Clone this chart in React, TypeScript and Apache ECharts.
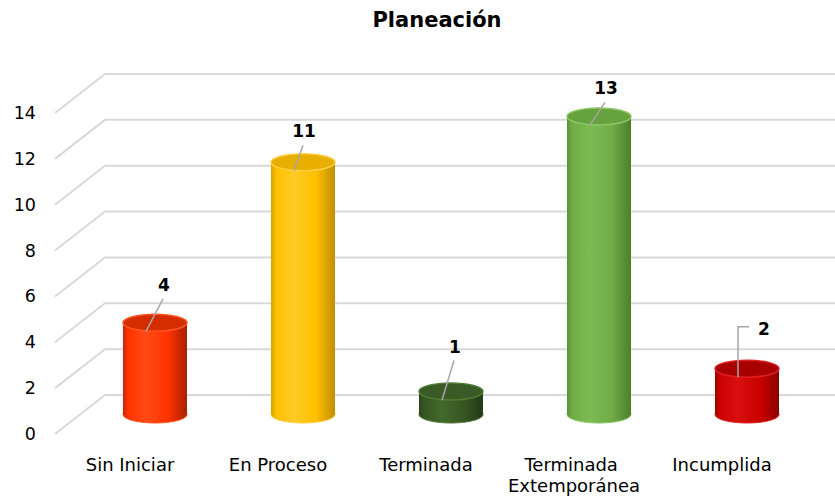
import React, { useEffect, useRef } from "react";
import * as echarts from "echarts";

const titleText = "Planeación";
const categories = ["Sin Iniciar", "En Proceso", "Terminada", "Terminada Extemporánea", "Incumplida"];
const values = [4, 11, 1, 13, 2];
const yTicks = [0, 2, 4, 6, 8, 10, 12, 14];

const barColors = [
  { left: "#C82800", base: "#FF3300", light: "#FF4A14", right: "#A82000", top: "#D42D00", rim: "#FF5522" },
  { left: "#D9A300", base: "#FFC000", light: "#FFCB26", right: "#C08F00", top: "#E8AE00", rim: "#FFD040" },
  { left: "#2B451B", base: "#375623", light: "#44692C", right: "#233A16", top: "#3A5B25", rim: "#4F7A35" },
  { left: "#5A9234", base: "#70AD47", light: "#7CBA52", right: "#4C7E2C", top: "#66A23E", rim: "#8BC765" },
  { left: "#A30000", base: "#CC0000", light: "#D81010", right: "#8A0000", top: "#A80000", rim: "#E02020" },
];
// label nudges relative to each cylinder's top centre (styling only)
const labelOffsets = [
  [9, -38],
  [1, -31],
  [4, -45],
  [7, -28],
  [17, -40],
];

const FONT = '"DejaVu Sans", Verdana, sans-serif';
const DEPTH_X = 50;
const DEPTH_Y = -39;
const RX = 32;
const RY = 8.5;

export default function App() {
  const ref = useRef<HTMLDivElement>(null);
  useEffect(() => {
    if (!ref.current) return;
    const chart = echarts.init(ref.current, undefined, { renderer: "svg" });
    const option: any = {
      animation: false,
      backgroundColor: "#FFFFFF",
      textStyle: { fontFamily: FONT },
      title: {
        text: titleText,
        left: 437,
        top: 9,
        padding: 0,
        textAlign: "center",
        textStyle: { fontFamily: FONT, fontSize: 21, fontWeight: "bold", color: "#000" },
      },
      grid: { left: 56, right: 39, top: 113, bottom: 66 },
      xAxis: {
        type: "category",
        data: categories,
        axisLine: { show: false },
        axisTick: { show: false },
        splitLine: { show: false },
        axisLabel: {
          margin: 20,
          fontSize: 18,
          lineHeight: 21,
          color: "#000",
          fontFamily: FONT,
          width: 146,
          overflow: "break",
          interval: 0,
        },
      },
      yAxis: {
        type: "value",
        min: 0,
        max: 14,
        interval: 2,
        axisLine: { show: false },
        axisTick: { show: false },
        splitLine: { show: false },
        axisLabel: { margin: 20, fontSize: 17.5, color: "#000", fontFamily: FONT },
      },
      series: [
        {
          type: "custom",
          z: 1,
          silent: true,
          data: yTicks.map((v) => [0, v]),
          renderItem: (params: any, api: any) => {
            const p = api.coord([0, api.value(1)]);
            const x0 = params.coordSys.x - 1;
            const y = p[1];
            return {
              type: "polyline",
              shape: {
                points: [
                  [x0, y],
                  [x0 + DEPTH_X, y + DEPTH_Y],
                  [api.getWidth(), y + DEPTH_Y],
                ],
              },
              style: { stroke: "#D9D9D9", lineWidth: 2, fill: null },
            };
          },
        },
        {
          type: "custom",
          z: 2,
          data: values.map((v, i) => [i, v]),
          renderItem: (params: any, api: any) => {
            const i = api.value(0);
            const v = api.value(1);
            const base = api.coord([i, 0]);
            const topP = api.coord([i, v]);
            const cx = base[0] + DEPTH_X / 2;
            const by = base[1] + DEPTH_Y / 2;
            const ty = topP[1] + DEPTH_Y / 2;
            const c = barColors[i];
            const grad = () =>
              new echarts.graphic.LinearGradient(0, 0, 1, 0, [
                { offset: 0, color: c.left },
                { offset: 0.08, color: c.base },
                { offset: 0.35, color: c.light },
                { offset: 0.7, color: c.base },
                { offset: 1, color: c.right },
              ]);
            const off = labelOffsets[i];
            const lx = cx + off[0];
            const ly = ty + off[1];
            const ex = cx - 9;
            const ey = ty + 8.5;
            const elbow = off[0] > 12;
            const leader = elbow
              ? {
                  type: "polyline",
                  shape: { points: [[ex, ey], [ex, ly - 2], [lx - 15, ly - 2]] },
                  style: { stroke: "#A6A6A6", lineWidth: 1.5, fill: null },
                }
              : {
                  type: "line",
                  shape: { x1: lx - 1, y1: ly + 14, x2: ex, y2: ey },
                  style: { stroke: "#A6A6A6", lineWidth: 1.5 },
                };
            return {
              type: "group",
              children: [
                {
                  type: "ellipse",
                  shape: { cx, cy: by, rx: RX, ry: RY },
                  style: { fill: grad(), stroke: c.rim, lineWidth: 1 },
                },
                {
                  type: "rect",
                  shape: { x: cx - RX, y: ty, width: RX * 2, height: by - ty },
                  style: { fill: grad() },
                },
                {
                  type: "ellipse",
                  shape: { cx, cy: ty, rx: RX, ry: RY },
                  style: { fill: c.top, stroke: c.rim, lineWidth: 1.5 },
                },
                leader,
                {
                  type: "text",
                  style: {
                    text: String(v),
                    x: lx,
                    y: ly,
                    align: "center",
                    verticalAlign: "middle",
                    fill: "#000",
                    fontFamily: FONT,
                    fontSize: 17,
                    fontWeight: "bold",
                  },
                },
              ],
            };
          },
        },
      ],
    };
    chart.setOption(option);
    return () => chart.dispose();
  }, []);
  return (
    <div
      ref={ref}
      style={{ position: "fixed", left: 0, top: 0, width: 835, height: 500, background: "#fff" }}
    />
  );
}
